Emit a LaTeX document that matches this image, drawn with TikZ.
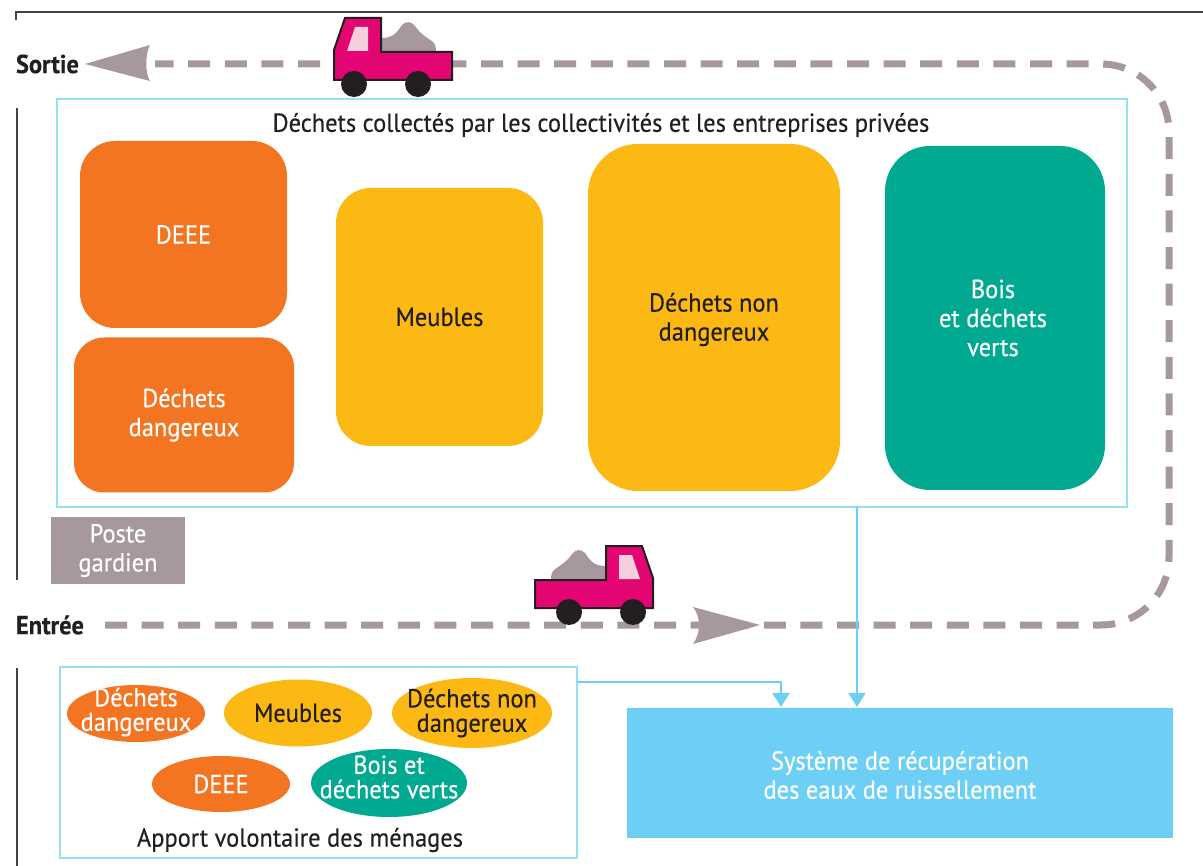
\documentclass[tikz,border=0pt]{standalone}
\usepackage{fontspec}
\setmainfont[FakeStretch=0.94,FakeBold=0.35]{PT Sans}
\usetikzlibrary{arrows.meta,shapes.geometric}
\definecolor{cOrange}{HTML}{F47521}
\definecolor{cYellow}{HTML}{FDB913}
\definecolor{cGreen}{HTML}{00A98F}
\definecolor{cMag}{HTML}{E30572}
\definecolor{cGray}{HTML}{A7989F}
\definecolor{cWin}{HTML}{F6CFDC}
\definecolor{cDark}{HTML}{231F20}
\definecolor{cBlue}{HTML}{6DCFF6}
\definecolor{cEdge}{HTML}{97E0FA}
\tikzset{
  x=1pt,y=-1pt,
  every node/.style={inner sep=0pt,outer sep=0pt,align=center,text=cDark,font=\fontsize{26}{29}\selectfont},
  blk/.style={rounded corners=#1,text=white},
  zone/.style={draw=cEdge,line width=2.6pt,fill=white},
  oval/.style={ellipse,inner sep=-20pt,text=white,font=\fontsize{26}{24.5}\selectfont},
  ovaldark/.style={oval,text=cDark},
  ovaltext/.style={text=white,font=\fontsize{26}{24.5}\selectfont},
  road/.style={draw=cGray,line width=7pt,dash pattern=on 22pt off 14.6pt},
  frameline/.style={draw=cDark!85,line width=2.5pt},
  flow/.style={draw=cBlue,line width=2.5pt,-{Triangle[length=14pt,width=17pt]}},
  tip/.style={fill=cGray},
  place/.style={font=\fontsize{26}{29}\selectfont\bfseries,text=cDark,anchor=west},
}
\newcommand{\truckshape}{%
  \fill[cGray] (381,52) -- (381,38) .. controls (392,38) and (396,34) .. (402,25)
     .. controls (406,21) and (411,21) .. (415,26) .. controls (420,34) and (428,38) .. (433,42)
     .. controls (436,45) and (436,49) .. (436,52) -- cycle;
  \draw[cDark,fill=cMag,line width=2pt,line join=miter]
     (345,18) -- (381,18) -- (381,52) -- (452,52) -- (452,80) -- (334,80) -- (334,50) -- cycle;
  \fill[cWin] (355,27) -- (368,27) -- (368,51) -- (347,51) -- cycle;
  \fill[cDark] (354,84) circle (13) (418,84) circle (13);
}
\begin{document}
\begin{tikzpicture}
\useasboundingbox (0,0) rectangle (1203,866);
\fill[white] (0,0) rectangle (1203,866);
% frame
\draw[frameline] (16,20) -- (16,12) -- (1203,12);
\draw[frameline] (17,108) -- (17,580);
\draw[frameline] (17,668) -- (17,866);
% labels
\node[place] (sortie) at (16,64) {Sortie};
\node[place] (entree) at (16,625) {Entrée};
% road
\coordinate (roadIn) at (105,625);
\coordinate (roadSE) at (1169,625);
\coordinate (roadNE) at (1169,64);
\coordinate (roadOut) at (155,64);
\draw[road,rounded corners=68pt] (roadIn) -- (roadSE) -- (roadNE) -- (roadOut);
\fill[tip] (85,64) -- (150,45) .. controls (145,55) and (145,73) .. (150,81) -- cycle;
\fill[tip] (760,625) -- (693,607) .. controls (701,617) and (701,633) .. (693,644) -- cycle;
% trucks
\truckshape
\begin{scope}[shift={(987,528)},xscale=-1]
\truckshape
\end{scope}
% collected zone
\node[zone,minimum width=1070pt,minimum height=408pt] (collect) at (592,303) {};
\node (collectT) at (601,125) {Déchets collectés par les collectivités et les entreprises privées};
\node[blk=35pt,fill=cOrange,minimum width=207pt,minimum height=187pt] (deee) at (183.5,234.5) {\raisebox{-2pt}{DEEE}};
\node[blk=30pt,fill=cOrange,minimum width=220pt,minimum height=155pt] (dang) at (184,415) {Déchets\\dangereux};
\node[blk=35pt,fill=cYellow,text=cDark,minimum width=207pt,minimum height=258pt] (meub) at (439.5,317) {Meubles};
\node[blk=50pt,fill=cYellow,minimum width=252pt,minimum height=347pt] (nond) at (714,317.5) {};
\node (nondT) at (714,319.5) {Déchets non\\dangereux};
\node[blk=45pt,fill=cGreen,minimum width=220pt,minimum height=344pt] (bois) at (995,318) {};
\node[text=white] (boisT) at (993,318) {Bois\\et déchets\\verts};
% guard post
\node[fill=cGray,text=white,minimum width=134pt,minimum height=67pt] (poste) at (118,550.5) {Poste\\gardien};
% voluntary zone
\node[zone,minimum width=517pt,minimum height=191pt] (apport) at (318.5,762.5) {};
\node (apportT) at (300,840) {Apport volontaire des ménages};
\node[oval,fill=cOrange,minimum width=138pt,minimum height=57pt] (o1) at (136,713.5) {};
\node[ovaltext] (o1T) at (136,712) {Déchets\\dangereux};
\node[ovaldark,fill=cYellow,minimum width=148pt,minimum height=67pt] (o2) at (298,713) {Meubles};
\node[ovaldark,fill=cYellow,minimum width=160pt,minimum height=70pt] (o3) at (472,713) {Déchets non\\dangereux};
\node[oval,fill=cOrange,minimum width=138pt,minimum height=56pt] (o4) at (221,784) {DEEE};
\node[oval,fill=cGreen,minimum width=156pt,minimum height=68pt] (o5) at (389,783) {};
\node[ovaltext] (o5T) at (389,777) {Bois et\\déchets verts};
% system
\node[fill=cBlue,minimum width=546pt,minimum height=130pt] (sys) at (900,773) {};
\node[text=white] (sysT) at (900,775) {Système de récupération\\des eaux de ruissellement};
% connectors
\coordinate (inB) at (857,707);
\coordinate (inA) at (781,707);
\coordinate (outA) at (577,682);
\draw[flow] (inB |- collect.south) -- (inB);
\draw[flow] (outA) -| (inA);
\end{tikzpicture}
\end{document}
